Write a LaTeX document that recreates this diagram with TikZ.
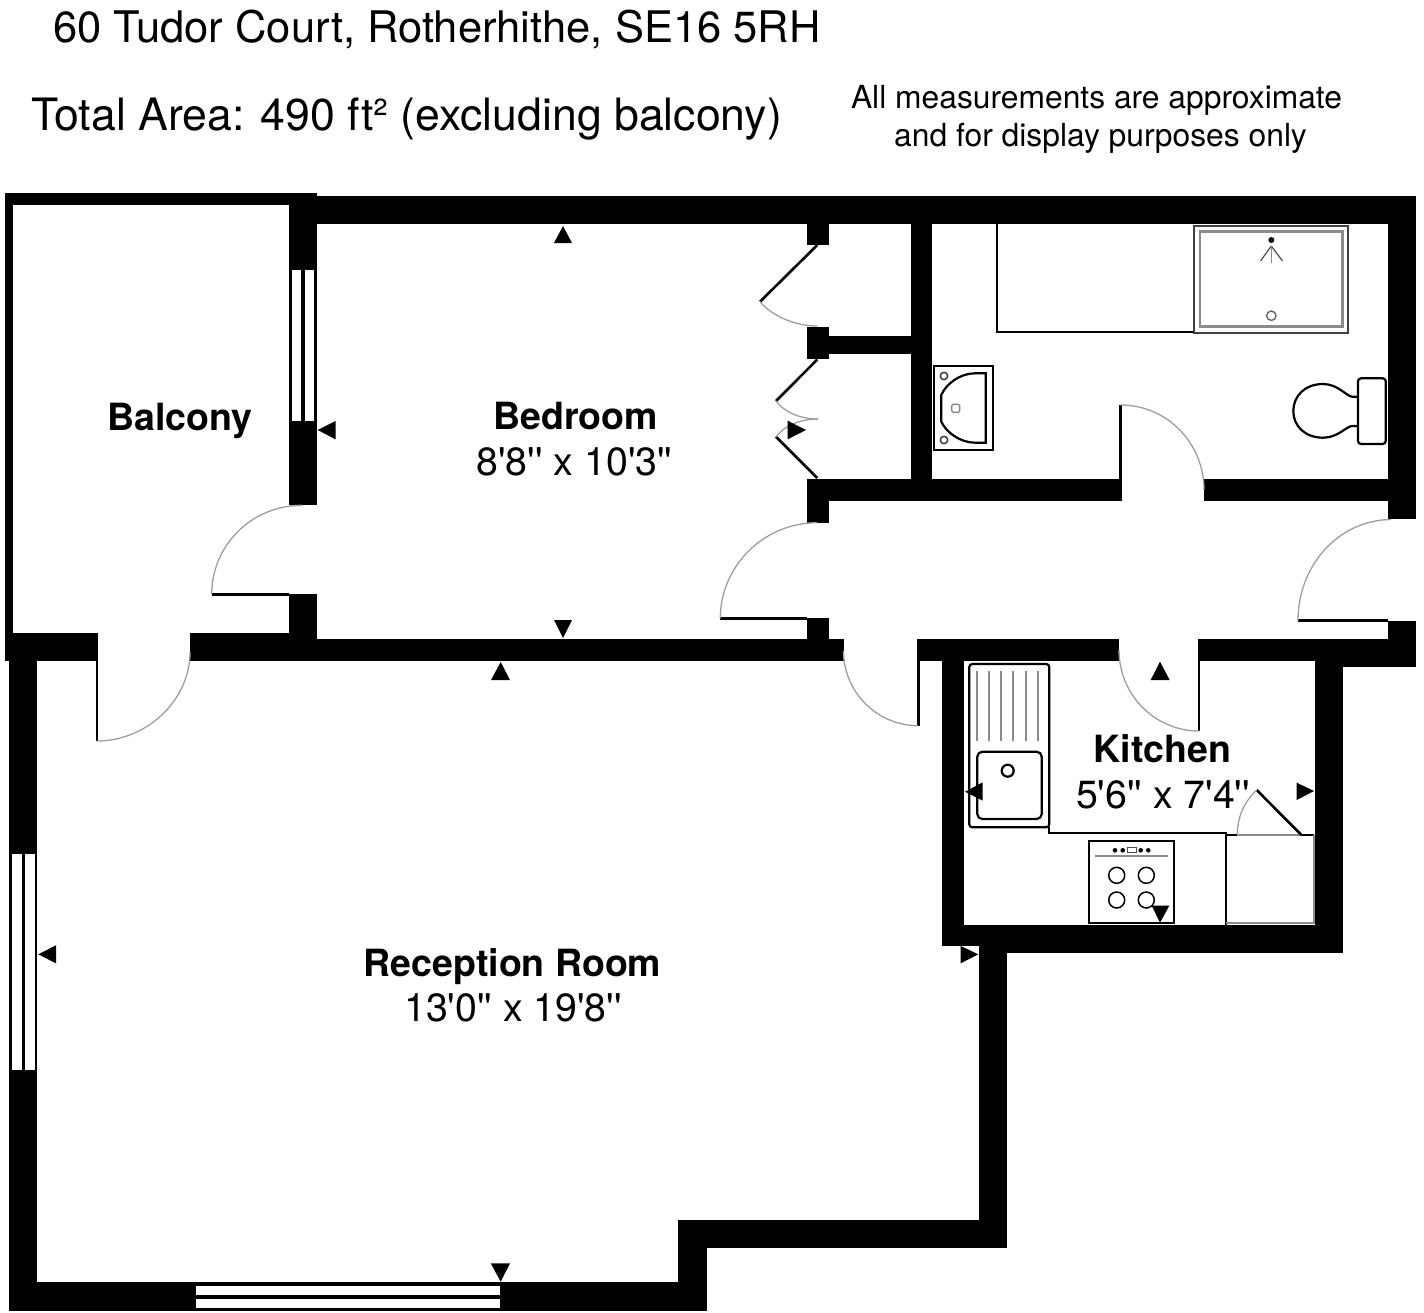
\documentclass[tikz,border=0pt]{standalone}
\usepackage{fontspec}
\setmainfont{TeX Gyre Heros}
\newcommand{\fs}[1]{\fontsize{#1}{#1}\selectfont}
\newcommand{\qq}{\textquotesingle}
\newcommand{\qd}{\textquotesingle\textquotesingle}
\definecolor{swingc}{gray}{0.62}
\definecolor{greyc}{gray}{0.55}
\tikzset{
  wallfill/.style={fill=black,draw=none},
  glass/.style={fill=white,draw=none},
  leaf/.style={draw=black,line width=2.6pt},
  swing/.style={draw=swingc,line width=1.3pt},
  fit1/.style={draw=black,line width=2.2pt},
  grey1/.style={draw=greyc,line width=2pt},
  mark1/.style={fill=black,draw=none},
  roomname/.style={font=\bfseries\fs{37.5},anchor=base,inner sep=0pt},
  roomsize/.style={font=\fs{39.3},anchor=base,inner sep=0pt},
  headtext/.style={font=\fs{43.5},anchor=base west,inner sep=0pt},
  areatext/.style={font=\fs{44.6},anchor=base west,inner sep=0pt},
  notetext/.style={font=\fs{31.8},anchor=base,inner sep=0pt}
}
\begin{document}
\begin{tikzpicture}[x=1pt,y=-1pt]
\useasboundingbox (0,0) rectangle (1424,1312);
\fill[white] (0,0) rectangle (1424,1312);
% walls
\foreach \a/\b/\c/\d in {
 5/193/13.3/661, 5/193/317/204.5, 289/193/317/505.3, 289/594/317/661,
 5/633/98.3/661, 190/633/289/661, 190/639/844/661,
 317/196/1416/224, 1388/196/1416/519.3,
 807/224/829/245, 807/327/829/359.3, 829/336/911/354.3, 911/224/932/480,
 807/479/1121.7/500.7, 1204/479/1416/500.7, 807/479/829/522.7, 807/617.5/829/640,
 1388/620.5/1416/667, 917/639/1119/660.7, 1198/639/1416/660.7,
 1315/639/1343.3/952.7, 1315/660/1416/667,
 942/639/963.7/946, 942/924.7/1343.3/946, 979.3/924.7/1343.3/952.7,
 979.3/924.7/1007.3/1248.3, 678/1220/1007.3/1248.3, 678/1220/706.5/1310.7,
 9.4/1282.3/706.5/1310.7, 9.4/661/37/1310.7}
 {\path[wallfill] (\a,\b) rectangle (\c,\d);}
% windows
\foreach \a/\b/\c/\d in {
 291.7/270/301/420.5, 304.7/270/313.7/420.5,
 12/854/21.7/1070, 25/854/34.7/1070,
 195.8/1286/500.2/1295, 195.8/1298.7/500.2/1307.7}
 {\path[glass] (\a,\b) rectangle (\c,\d);}
% doors
\draw[leaf] (97,661) -- (97,741);
\draw[swing] (97,741) .. controls (146,741) and (190,701) .. (190,652);
\draw[leaf] (289,594.4) -- (211.7,594.4);
\draw[swing] (211.7,594.4) .. controls (211.7,545) and (252,505.3) .. (302,505.3);
\draw[leaf] (817.3,245) -- (760,301.7);
\draw[swing] (760,301.7) .. controls (772,316) and (795,326) .. (817.3,326);
\draw[leaf] (817.3,359.5) -- (776,401);
\draw[swing] (776,401) .. controls (784,412) and (800,419) .. (818,419);
\draw[leaf] (817.3,478) -- (776,436.7);
\draw[swing] (776,436.7) .. controls (784,426) and (800,419) .. (818,419);
\draw[leaf] (807,618.3) -- (720.3,618.3);
\draw[swing] (720.3,618.3) .. controls (720.3,566) and (764,522.7) .. (817,522.7);
\draw[leaf] (1120.6,479) -- (1120.6,405);
\draw[swing] (1120.6,405) .. controls (1167,405) and (1204,443) .. (1204,490);
\draw[leaf] (1388,620.5) -- (1298,620.5);
\draw[swing] (1298,620.5) .. controls (1298,566) and (1338,520) .. (1391,519.5);
\draw[leaf] (918.2,660) -- (918.2,725.7);
\draw[swing] (918.2,725.7) .. controls (877,725.7) and (843.5,692) .. (843.5,651);
\draw[leaf] (1199,660) -- (1199,731);
\draw[swing] (1199,731) .. controls (1155,731) and (1119,695) .. (1119,650);
% bathroom fittings
\draw[fit1] (997,224) -- (997,332.3) -- (1194,332.3);
\draw[draw=black!75,line width=2pt] (1194,225.5) rectangle (1348.3,332.6);
\draw[grey1,line width=2.5pt] (1200,231.7) rectangle (1342.3,326.7);
\fill[black] (1271.3,240) circle (3);
\draw[draw=black!70,line width=1.2pt] (1271.3,246) -- (1260.5,261) (1271.3,246) -- (1282.5,261);
\draw[grey1,line width=1.6pt] (1271.3,246) -- (1271.3,263);
\draw[draw=black!60,line width=1.4pt] (1271.3,315.7) circle (4.7);
\draw[fit1,rounded corners=3pt] (1358,378.3) rectangle (1385.7,444);
\draw[fit1] (1358,396.7) -- (1352,396.7) .. controls (1346,396) and (1338,384) .. (1323,384)
  .. controls (1305,384) and (1293.3,396) .. (1293.3,411)
  .. controls (1293.3,426) and (1305,437.7) .. (1323,437.7)
  .. controls (1338,437.7) and (1346,426.5) .. (1352,426) -- (1358,426);
\draw[fit1,line width=2.3pt] (934.3,365.7) rectangle (993,450);
\draw[fit1] (985.7,373.3) -- (975,373.3) .. controls (960,373.3) and (946,384) .. (941.3,395)
  -- (941.3,421.7) .. controls (946,432) and (960,442.7) .. (975,442.7) -- (985.7,442.7) -- cycle;
\draw[draw=black!80,line width=1.4pt] (944,376) circle (3.7) (944,440) circle (3.7);
\draw[draw=black!50,line width=1.2pt,rounded corners=1.5pt] (951.7,404.3) rectangle (959.7,412.3);
% kitchen fittings
\draw[fit1,rounded corners=3pt] (969.3,664) rectangle (1049.3,827.3);
\foreach \x in {977.3,989.3,1001.3,1013.3,1025.7,1037.7}
  \draw[grey1] (\x,670.7) -- (\x,741);
\draw[fit1,rounded corners=5pt] (977.3,751.7) rectangle (1041.7,819);
\draw[fit1] (1007.7,770.7) circle (6);
\draw[fit1] (1049.3,827) -- (1049.3,832.7) -- (1226,832.7) -- (1226,924.7);
\draw[grey1] (1237,835.3) -- (1301.7,835.3);
\draw[fit1] (1226,835.3) -- (1237,835.3) (1301.7,835.3) -- (1314,835.3);
\draw[grey1] (1314,835.3) -- (1314,923) -- (1226,923);
\draw[leaf] (1301.7,835.3) -- (1256.7,790);
\draw[swing] (1256.7,790) .. controls (1244,802) and (1237.3,817) .. (1237.3,835);
\draw[fit1] (1088.7,841) rectangle (1174,923.3);
\foreach \x in {1115,1122.7,1140.7,1148.3} \fill[black] (\x,850.3) circle (2.3);
\draw[draw=black!70,line width=1pt] (1127.3,847.7) rectangle (1136,852.7);
\draw[grey1] (1095,856) -- (1168.3,856);
\foreach \x/\y in {1116.7/875.3,1146.3/875.3,1116.7/900,1146.3/900}
  \draw[draw=black,line width=1.5pt] (\x,\y) circle (8);
% measurement marks
\foreach \p/\q/\r/\s/\t/\u in {
 563/226/554/243/572/243,
 563/638/554/620/572/620,
 500.7/662/491/680/510/680,
 1160/661.7/1150.7/680/1169.7/680,
 1160/922.7/1151.7/905.7/1169.3/905.7,
 500.7/1281.7/490.8/1263.3/510/1263.3,
 806/430/787.7/420.7/787.7/439.3,
 1314/791/1296.7/782.7/1296.7/800,
 978.3/954.3/960.7/946/960.7/963.3,
 317.7/430/335.7/421/335.7/439.4,
 965/791.7/982.7/782.3/982.7/800.7,
 38.3/954.3/56/945.3/56/963.3}
 {\path[mark1] (\p,\q) -- (\r,\s) -- (\t,\u) -- cycle;}
% text
\node[headtext] (title) at (53,42) {60 Tudor Court, Rotherhithe, SE16 5RH};
\node[areatext] (area) at (31,130) {Total Area: 490 ft² (excluding balcony)};
\node[notetext] (note1) at (1096.5,108) {All measurements are approximate};
\node[notetext] (note2) at (1100.5,146) {and for display purposes only};
\node[roomname] (balcony) at (180,430) {Balcony};
\node[roomname] (bedroom) at (575.5,429) {Bedroom};
\node[roomsize] (bedsize) at (574.5,475) {8\qq 8\qd{} x 10\qq 3\qd};
\node[roomname] (reception) at (512.5,976) {Reception Room};
\node[roomsize] (recsize) at (513,1021) {13\qq 0\qd{} x 19\qq 8\qd};
\node[roomname] (kitchen) at (1162.5,762.5) {Kitchen};
\node[roomsize] (kitsize) at (1163,808) {5\qq 6\qd{} x 7\qq 4\qd};
\end{tikzpicture}
\end{document}
